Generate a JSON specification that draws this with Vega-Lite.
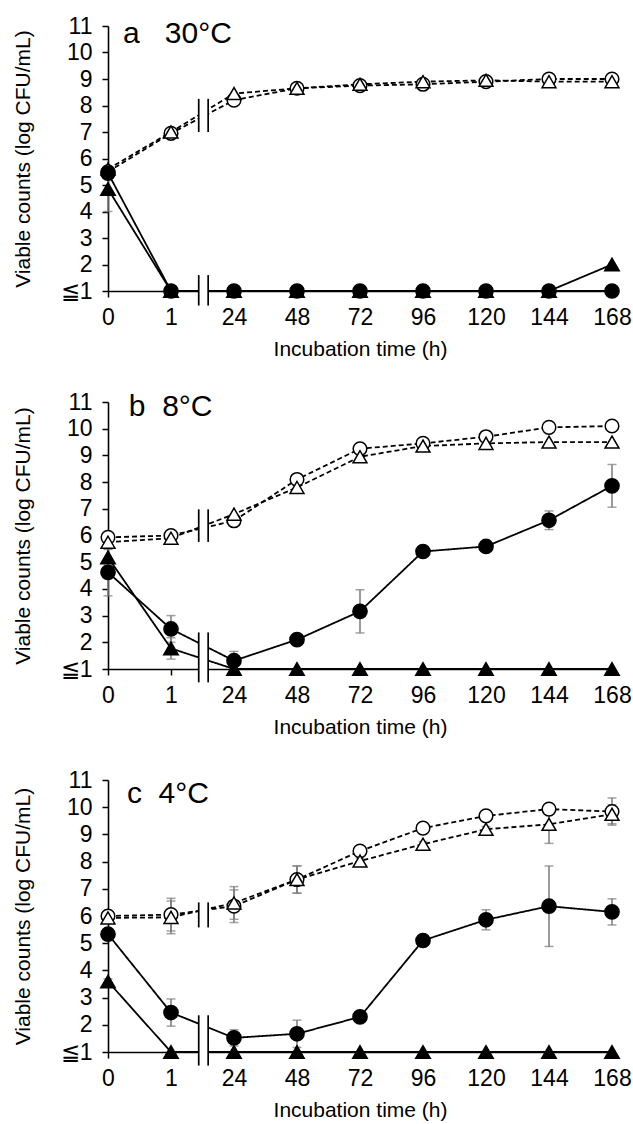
{
  "$schema": "https://vega.github.io/schema/vega-lite/v6.json",
  "padding": {"left": 12, "top": 15, "right": 12, "bottom": 5},
  "background": "white",
  "datasets": {
    "d": [
      {"p":"a","k":"pt","s":"oc","i":0,"v":5.5,"e":0},
      {"p":"a","k":"pt","s":"oc","i":1,"v":6.95,"e":0},
      {"p":"a","k":"pt","s":"oc","i":2,"v":8.2,"e":0},
      {"p":"a","k":"pt","s":"oc","i":3,"v":8.65,"e":0},
      {"p":"a","k":"pt","s":"oc","i":4,"v":8.75,"e":0},
      {"p":"a","k":"pt","s":"oc","i":5,"v":8.8,"e":0},
      {"p":"a","k":"pt","s":"oc","i":6,"v":8.9,"e":0},
      {"p":"a","k":"pt","s":"oc","i":7,"v":9.0,"e":0},
      {"p":"a","k":"pt","s":"oc","i":8,"v":9.0,"e":0},
      {"p":"a","k":"pt","s":"ot","i":0,"v":5.6,"e":0},
      {"p":"a","k":"pt","s":"ot","i":1,"v":7.0,"e":0},
      {"p":"a","k":"pt","s":"ot","i":2,"v":8.45,"e":0},
      {"p":"a","k":"pt","s":"ot","i":3,"v":8.65,"e":0},
      {"p":"a","k":"pt","s":"ot","i":4,"v":8.8,"e":0},
      {"p":"a","k":"pt","s":"ot","i":5,"v":8.9,"e":0},
      {"p":"a","k":"pt","s":"ot","i":6,"v":8.95,"e":0},
      {"p":"a","k":"pt","s":"ot","i":7,"v":8.9,"e":0},
      {"p":"a","k":"pt","s":"ot","i":8,"v":8.9,"e":0},
      {"p":"a","k":"pt","s":"ft","i":0,"v":4.85,"e":0.85},
      {"p":"a","k":"pt","s":"ft","i":1,"v":1,"e":0},
      {"p":"a","k":"pt","s":"ft","i":2,"v":1,"e":0},
      {"p":"a","k":"pt","s":"ft","i":3,"v":1,"e":0},
      {"p":"a","k":"pt","s":"ft","i":4,"v":1,"e":0},
      {"p":"a","k":"pt","s":"ft","i":5,"v":1,"e":0},
      {"p":"a","k":"pt","s":"ft","i":6,"v":1,"e":0},
      {"p":"a","k":"pt","s":"ft","i":7,"v":1,"e":0},
      {"p":"a","k":"pt","s":"ft","i":8,"v":2.0,"e":0},
      {"p":"a","k":"pt","s":"fc","i":0,"v":5.45,"e":0},
      {"p":"a","k":"pt","s":"fc","i":1,"v":1,"e":0},
      {"p":"a","k":"pt","s":"fc","i":2,"v":1,"e":0},
      {"p":"a","k":"pt","s":"fc","i":3,"v":1,"e":0},
      {"p":"a","k":"pt","s":"fc","i":4,"v":1,"e":0},
      {"p":"a","k":"pt","s":"fc","i":5,"v":1,"e":0},
      {"p":"a","k":"pt","s":"fc","i":6,"v":1,"e":0},
      {"p":"a","k":"pt","s":"fc","i":7,"v":1,"e":0},
      {"p":"a","k":"pt","s":"fc","i":8,"v":1,"e":0},
      {"p":"a","k":"gap","i":1.44,"i2":1.59,"v":7.0,"v2":8.25},
      {"p":"a","k":"gap","i":1.44,"i2":1.59,"v":0.45,"v2":1.6},
      {"p":"a","k":"bl","i":1.44,"v":7.0,"v2":8.25},
      {"p":"a","k":"bl","i":1.59,"v":7.0,"v2":8.25},
      {"p":"a","k":"bl","i":1.44,"v":0.45,"v2":1.6},
      {"p":"a","k":"bl","i":1.59,"v":0.45,"v2":1.6},
      {"p":"a","k":"ttl","i":0.24,"v":10.7,"t":"a\u00a0\u00a0\u00a030°C"},

      {"p":"b","k":"pt","s":"oc","i":0,"v":5.93,"e":0.1},
      {"p":"b","k":"pt","s":"oc","i":1,"v":6.0,"e":0.1},
      {"p":"b","k":"pt","s":"oc","i":2,"v":6.55,"e":0.2},
      {"p":"b","k":"pt","s":"oc","i":3,"v":8.1,"e":0.2},
      {"p":"b","k":"pt","s":"oc","i":4,"v":9.25,"e":0.2},
      {"p":"b","k":"pt","s":"oc","i":5,"v":9.45,"e":0.2},
      {"p":"b","k":"pt","s":"oc","i":6,"v":9.7,"e":0.1},
      {"p":"b","k":"pt","s":"oc","i":7,"v":10.05,"e":0.1},
      {"p":"b","k":"pt","s":"oc","i":8,"v":10.1,"e":0.1},
      {"p":"b","k":"pt","s":"ot","i":0,"v":5.75,"e":0},
      {"p":"b","k":"pt","s":"ot","i":1,"v":5.9,"e":0},
      {"p":"b","k":"pt","s":"ot","i":2,"v":6.8,"e":0},
      {"p":"b","k":"pt","s":"ot","i":3,"v":7.8,"e":0},
      {"p":"b","k":"pt","s":"ot","i":4,"v":8.95,"e":0},
      {"p":"b","k":"pt","s":"ot","i":5,"v":9.35,"e":0},
      {"p":"b","k":"pt","s":"ot","i":6,"v":9.45,"e":0},
      {"p":"b","k":"pt","s":"ot","i":7,"v":9.5,"e":0},
      {"p":"b","k":"pt","s":"ot","i":8,"v":9.5,"e":0},
      {"p":"b","k":"pt","s":"ft","i":0,"v":5.18,"e":0.3},
      {"p":"b","k":"pt","s":"ft","i":1,"v":1.77,"e":0.4},
      {"p":"b","k":"pt","s":"ft","i":2,"v":1,"e":0},
      {"p":"b","k":"pt","s":"ft","i":3,"v":1,"e":0},
      {"p":"b","k":"pt","s":"ft","i":4,"v":1,"e":0},
      {"p":"b","k":"pt","s":"ft","i":5,"v":1,"e":0},
      {"p":"b","k":"pt","s":"ft","i":6,"v":1,"e":0},
      {"p":"b","k":"pt","s":"ft","i":7,"v":1,"e":0},
      {"p":"b","k":"pt","s":"ft","i":8,"v":1,"e":0},
      {"p":"b","k":"pt","s":"fc","i":0,"v":4.62,"e":0.88},
      {"p":"b","k":"pt","s":"fc","i":1,"v":2.5,"e":0.5},
      {"p":"b","k":"pt","s":"fc","i":2,"v":1.31,"e":0.35},
      {"p":"b","k":"pt","s":"fc","i":3,"v":2.1,"e":0.1},
      {"p":"b","k":"pt","s":"fc","i":4,"v":3.16,"e":0.81},
      {"p":"b","k":"pt","s":"fc","i":5,"v":5.4,"e":0.2},
      {"p":"b","k":"pt","s":"fc","i":6,"v":5.59,"e":0.15},
      {"p":"b","k":"pt","s":"fc","i":7,"v":6.57,"e":0.35},
      {"p":"b","k":"pt","s":"fc","i":8,"v":7.86,"e":0.8},
      {"p":"b","k":"gap","i":1.44,"i2":1.59,"v":5.76,"v2":6.98},
      {"p":"b","k":"gap","i":1.44,"i2":1.59,"v":0.5,"v2":2.37},
      {"p":"b","k":"bl","i":1.44,"v":5.76,"v2":6.98},
      {"p":"b","k":"bl","i":1.59,"v":5.76,"v2":6.98},
      {"p":"b","k":"bl","i":1.44,"v":0.5,"v2":2.37},
      {"p":"b","k":"bl","i":1.59,"v":0.5,"v2":2.37},
      {"p":"b","k":"ttl","i":0.33,"v":10.8,"t":"b\u00a0\u00a08°C"},

      {"p":"c","k":"pt","s":"oc","i":0,"v":6.0,"e":0.2},
      {"p":"c","k":"pt","s":"oc","i":1,"v":6.05,"e":0.6},
      {"p":"c","k":"pt","s":"oc","i":2,"v":6.36,"e":0.6},
      {"p":"c","k":"pt","s":"oc","i":3,"v":7.34,"e":0.5},
      {"p":"c","k":"pt","s":"oc","i":4,"v":8.39,"e":0.1},
      {"p":"c","k":"pt","s":"oc","i":5,"v":9.23,"e":0.2},
      {"p":"c","k":"pt","s":"oc","i":6,"v":9.68,"e":0.15},
      {"p":"c","k":"pt","s":"oc","i":7,"v":9.93,"e":0.15},
      {"p":"c","k":"pt","s":"oc","i":8,"v":9.84,"e":0.5},
      {"p":"c","k":"pt","s":"ot","i":0,"v":5.93,"e":0.1},
      {"p":"c","k":"pt","s":"ot","i":1,"v":5.95,"e":0.6},
      {"p":"c","k":"pt","s":"ot","i":2,"v":6.48,"e":0.6},
      {"p":"c","k":"pt","s":"ot","i":3,"v":7.34,"e":0.5},
      {"p":"c","k":"pt","s":"ot","i":4,"v":8.02,"e":0.1},
      {"p":"c","k":"pt","s":"ot","i":5,"v":8.64,"e":0.1},
      {"p":"c","k":"pt","s":"ot","i":6,"v":9.19,"e":0.1},
      {"p":"c","k":"pt","s":"ot","i":7,"v":9.37,"e":0.7},
      {"p":"c","k":"pt","s":"ot","i":8,"v":9.74,"e":0.35},
      {"p":"c","k":"pt","s":"ft","i":0,"v":3.59,"e":0.1},
      {"p":"c","k":"pt","s":"ft","i":1,"v":1,"e":0},
      {"p":"c","k":"pt","s":"ft","i":2,"v":1,"e":0},
      {"p":"c","k":"pt","s":"ft","i":3,"v":1,"e":0},
      {"p":"c","k":"pt","s":"ft","i":4,"v":1,"e":0},
      {"p":"c","k":"pt","s":"ft","i":5,"v":1,"e":0},
      {"p":"c","k":"pt","s":"ft","i":6,"v":1,"e":0},
      {"p":"c","k":"pt","s":"ft","i":7,"v":1,"e":0},
      {"p":"c","k":"pt","s":"ft","i":8,"v":1,"e":0},
      {"p":"c","k":"pt","s":"fc","i":0,"v":5.33,"e":0.2},
      {"p":"c","k":"pt","s":"fc","i":1,"v":2.45,"e":0.5},
      {"p":"c","k":"pt","s":"fc","i":2,"v":1.52,"e":0.3},
      {"p":"c","k":"pt","s":"fc","i":3,"v":1.67,"e":0.5},
      {"p":"c","k":"pt","s":"fc","i":4,"v":2.29,"e":0.1},
      {"p":"c","k":"pt","s":"fc","i":5,"v":5.1,"e":0.15},
      {"p":"c","k":"pt","s":"fc","i":6,"v":5.86,"e":0.37},
      {"p":"c","k":"pt","s":"fc","i":7,"v":6.36,"e":1.48},
      {"p":"c","k":"pt","s":"fc","i":8,"v":6.15,"e":0.48},
      {"p":"c","k":"gap","i":1.44,"i2":1.59,"v":5.58,"v2":6.5},
      {"p":"c","k":"gap","i":1.44,"i2":1.59,"v":0.5,"v2":2.35},
      {"p":"c","k":"bl","i":1.44,"v":5.58,"v2":6.5},
      {"p":"c","k":"bl","i":1.59,"v":5.58,"v2":6.5},
      {"p":"c","k":"bl","i":1.44,"v":0.5,"v2":2.35},
      {"p":"c","k":"bl","i":1.59,"v":0.5,"v2":2.35},
      {"p":"c","k":"ttl","i":0.3,"v":10.5,"t":"c\u00a0\u00a04°C"}
    ]
  },
  "config": {
    "view": {"stroke": null},
    "font": "Liberation Sans",
    "axis": {
      "grid": false,
      "domainColor": "black",
      "domainWidth": 1.6,
      "tickColor": "black",
      "tickWidth": 1.5,
      "tickSize": 6,
      "labelFont": "Liberation Sans",
      "labelFontSize": 23,
      "labelColor": "black",
      "titleFont": "Liberation Sans",
      "titleFontSize": 21,
      "titleFontWeight": "normal",
      "titleColor": "black"
    },
    "axisX": {"labelPadding": 9, "titlePadding": 9, "labelFlush": false},
    "axisY": {"labelPadding": 10, "titlePadding": 27}
  },
  "vconcat": [
    {
      "width": 504, "height": 265,
      "data": {"name": "d"},
      "transform": [{"filter": "datum.p == 'a'"}],
      "encoding": {
        "x": {"field": "i", "type": "quantitative", "scale": {"domain": [0, 8], "nice": false, "zero": false},
          "axis": {"values": [0,1,2,3,4,5,6,7,8], "labelExpr": "['0','1','24','48','72','96','120','144','168'][datum.value]", "title": "Incubation time (h)"}},
        "y": {"field": "v", "type": "quantitative", "scale": {"domain": [1, 11], "nice": false, "zero": false},
          "axis": {"values": [1,2,3,4,5,6,7,8,9,10,11], "labelExpr": "datum.value == 1 ? '≦1\u00a0' : datum.label", "title": "Viable counts (log CFU/mL)"}}
      },
      "layer": [
        {"transform": [{"filter": "datum.k == 'pt' && datum.e > 0"}],
         "mark": {"type": "errorbar", "ticks": {"size": 9, "color": "#7a7a7a", "thickness": 1.5}, "rule": {"color": "#7a7a7a", "strokeWidth": 1.5}},
         "encoding": {"yError": {"field": "e"}}},
        {"transform": [{"filter": "datum.k == 'pt'"}],
         "mark": {"type": "line", "color": "black", "strokeWidth": 1.8},
         "encoding": {"detail": {"field": "s"},
           "strokeDash": {"field": "s", "scale": {"domain": ["oc","ot","fc","ft"], "range": [[5,3],[5,3],[1,0],[1,0]]}, "legend": null}}},
        {"transform": [{"filter": "datum.k == 'pt'"}],
         "mark": {"type": "point", "filled": true, "stroke": "black", "strokeWidth": 1.5, "opacity": 1},
         "encoding": {
           "shape": {"field": "s", "scale": {"domain": ["oc","ot","fc","ft"], "range": ["circle","triangle-up","circle","triangle-up"]}, "legend": null},
           "fill": {"field": "s", "scale": {"domain": ["oc","ot","fc","ft"], "range": ["white","white","black","black"]}, "legend": null},
           "size": {"field": "s", "scale": {"domain": ["oc","ot","fc","ft"], "range": [185,210,185,210]}, "legend": null}}},
        {"transform": [{"filter": "datum.k == 'gap'"}],
         "mark": {"type": "rect", "color": "white"},
         "encoding": {"x2": {"field": "i2"}, "y2": {"field": "v2"}}},
        {"transform": [{"filter": "datum.k == 'bl'"}],
         "mark": {"type": "rule", "color": "black", "strokeWidth": 1.7},
         "encoding": {"y2": {"field": "v2"}}},
        {"transform": [{"filter": "datum.k == 'ttl'"}],
         "mark": {"type": "text", "align": "left", "baseline": "middle", "fontSize": 30, "font": "Liberation Sans", "color": "black"},
         "encoding": {"text": {"field": "t"}}}
      ]
    },
    {
      "width": 504, "height": 267,
      "data": {"name": "d"},
      "transform": [{"filter": "datum.p == 'b'"}],
      "encoding": {
        "x": {"field": "i", "type": "quantitative", "scale": {"domain": [0, 8], "nice": false, "zero": false},
          "axis": {"values": [0,1,2,3,4,5,6,7,8], "labelExpr": "['0','1','24','48','72','96','120','144','168'][datum.value]", "title": "Incubation time (h)"}},
        "y": {"field": "v", "type": "quantitative", "scale": {"domain": [1, 11], "nice": false, "zero": false},
          "axis": {"values": [1,2,3,4,5,6,7,8,9,10,11], "labelExpr": "datum.value == 1 ? '≦1\u00a0' : datum.label", "title": "Viable counts (log CFU/mL)"}}
      },
      "layer": [
        {"transform": [{"filter": "datum.k == 'pt' && datum.e > 0"}],
         "mark": {"type": "errorbar", "ticks": {"size": 9, "color": "#7a7a7a", "thickness": 1.5}, "rule": {"color": "#7a7a7a", "strokeWidth": 1.5}},
         "encoding": {"yError": {"field": "e"}}},
        {"transform": [{"filter": "datum.k == 'pt'"}],
         "mark": {"type": "line", "color": "black", "strokeWidth": 1.8},
         "encoding": {"detail": {"field": "s"},
           "strokeDash": {"field": "s", "scale": {"domain": ["oc","ot","fc","ft"], "range": [[5,3],[5,3],[1,0],[1,0]]}, "legend": null}}},
        {"transform": [{"filter": "datum.k == 'pt'"}],
         "mark": {"type": "point", "filled": true, "stroke": "black", "strokeWidth": 1.5, "opacity": 1},
         "encoding": {
           "shape": {"field": "s", "scale": {"domain": ["oc","ot","fc","ft"], "range": ["circle","triangle-up","circle","triangle-up"]}, "legend": null},
           "fill": {"field": "s", "scale": {"domain": ["oc","ot","fc","ft"], "range": ["white","white","black","black"]}, "legend": null},
           "size": {"field": "s", "scale": {"domain": ["oc","ot","fc","ft"], "range": [185,210,185,210]}, "legend": null}}},
        {"transform": [{"filter": "datum.k == 'gap'"}],
         "mark": {"type": "rect", "color": "white"},
         "encoding": {"x2": {"field": "i2"}, "y2": {"field": "v2"}}},
        {"transform": [{"filter": "datum.k == 'bl'"}],
         "mark": {"type": "rule", "color": "black", "strokeWidth": 1.7},
         "encoding": {"y2": {"field": "v2"}}},
        {"transform": [{"filter": "datum.k == 'ttl'"}],
         "mark": {"type": "text", "align": "left", "baseline": "middle", "fontSize": 30, "font": "Liberation Sans", "color": "black"},
         "encoding": {"text": {"field": "t"}}}
      ]
    },
    {
      "width": 504, "height": 272,
      "data": {"name": "d"},
      "transform": [{"filter": "datum.p == 'c'"}],
      "encoding": {
        "x": {"field": "i", "type": "quantitative", "scale": {"domain": [0, 8], "nice": false, "zero": false},
          "axis": {"values": [0,1,2,3,4,5,6,7,8], "labelExpr": "['0','1','24','48','72','96','120','144','168'][datum.value]", "title": "Incubation time (h)"}},
        "y": {"field": "v", "type": "quantitative", "scale": {"domain": [1, 11], "nice": false, "zero": false},
          "axis": {"values": [1,2,3,4,5,6,7,8,9,10,11], "labelExpr": "datum.value == 1 ? '≦1\u00a0' : datum.label", "title": "Viable counts (log CFU/mL)"}}
      },
      "layer": [
        {"transform": [{"filter": "datum.k == 'pt' && datum.e > 0"}],
         "mark": {"type": "errorbar", "ticks": {"size": 9, "color": "#7a7a7a", "thickness": 1.5}, "rule": {"color": "#7a7a7a", "strokeWidth": 1.5}},
         "encoding": {"yError": {"field": "e"}}},
        {"transform": [{"filter": "datum.k == 'pt'"}],
         "mark": {"type": "line", "color": "black", "strokeWidth": 1.8},
         "encoding": {"detail": {"field": "s"},
           "strokeDash": {"field": "s", "scale": {"domain": ["oc","ot","fc","ft"], "range": [[5,3],[5,3],[1,0],[1,0]]}, "legend": null}}},
        {"transform": [{"filter": "datum.k == 'pt'"}],
         "mark": {"type": "point", "filled": true, "stroke": "black", "strokeWidth": 1.5, "opacity": 1},
         "encoding": {
           "shape": {"field": "s", "scale": {"domain": ["oc","ot","fc","ft"], "range": ["circle","triangle-up","circle","triangle-up"]}, "legend": null},
           "fill": {"field": "s", "scale": {"domain": ["oc","ot","fc","ft"], "range": ["white","white","black","black"]}, "legend": null},
           "size": {"field": "s", "scale": {"domain": ["oc","ot","fc","ft"], "range": [185,210,185,210]}, "legend": null}}},
        {"transform": [{"filter": "datum.k == 'gap'"}],
         "mark": {"type": "rect", "color": "white"},
         "encoding": {"x2": {"field": "i2"}, "y2": {"field": "v2"}}},
        {"transform": [{"filter": "datum.k == 'bl'"}],
         "mark": {"type": "rule", "color": "black", "strokeWidth": 1.7},
         "encoding": {"y2": {"field": "v2"}}},
        {"transform": [{"filter": "datum.k == 'ttl'"}],
         "mark": {"type": "text", "align": "left", "baseline": "middle", "fontSize": 30, "font": "Liberation Sans", "color": "black"},
         "encoding": {"text": {"field": "t"}}}
      ]
    }
  ],
  "spacing": 32
}
